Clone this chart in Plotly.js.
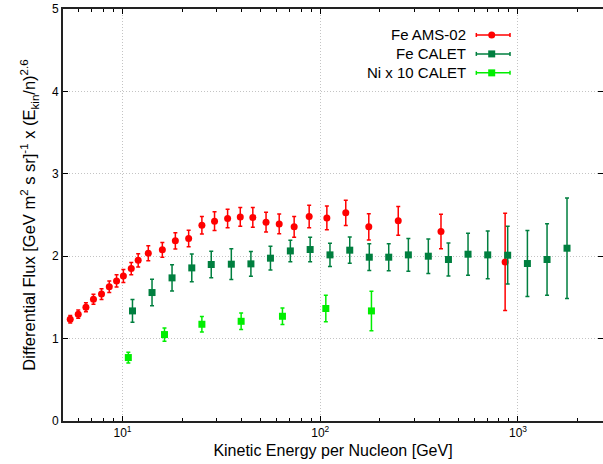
<!DOCTYPE html>
<html>
<head>
<meta charset="utf-8">
<script src="https://cdn.plot.ly/plotly-3.0.1.min.js"></script>
<style>html,body{margin:0;padding:0;background:#fff;}#chart{width:603px;height:464px;}</style>
</head>
<body>
<div id="chart"></div>
<script>
// Fe AMS-02
var amsE = [5.44,5.97,6.53,7.13,7.83,8.57,9.33,10.1,11.07,12.0,13.5,15.9,18.5,21.6,25.2,29.2,34.0,39.4,45.6,53.2,62.0,73.8,87.9,108,134.6,176,248,408,861];
var amsF = [1.235,1.296,1.38,1.478,1.54,1.63,1.70,1.76,1.85,1.95,2.036,2.077,2.186,2.215,2.376,2.425,2.458,2.477,2.47,2.413,2.392,2.356,2.482,2.465,2.526,2.356,2.429,2.30,1.93];
var amsErr = [0.045,0.05,0.055,0.06,0.065,0.07,0.075,0.08,0.075,0.08,0.09,0.09,0.1,0.1,0.107,0.113,0.113,0.115,0.12,0.12,0.12,0.127,0.136,0.144,0.154,0.158,0.174,0.21,0.59];
// Fe CALET
var feE = [11.23,14.1,17.8,22.4,28.1,35.5,44.6,56.0,70.6,88.9,112,141,177,222,279,352,445,559,703,887,1116,1403,1770];
var feF = [1.336,1.559,1.737,1.858,1.899,1.903,1.907,1.976,2.064,2.081,2.016,2.073,1.988,1.988,2.016,2.0,1.96,2.024,2.016,2.012,1.911,1.96,2.097];
var feErr = [0.138,0.16,0.16,0.168,0.162,0.186,0.15,0.144,0.13,0.148,0.142,0.16,0.162,0.164,0.198,0.21,0.2,0.255,0.29,0.35,0.4,0.435,0.61];
// Ni x 10 CALET
var niE = [10.7,16.3,25.2,39.8,64.4,106.7,181.5];
var niF = [0.77,1.049,1.174,1.21,1.271,1.365,1.336];
var niErr = [0.065,0.08,0.093,0.1,0.1,0.16,0.24];

var seriesNames = ['Fe AMS-02','Fe CALET','Ni x 10 CALET'];
var seriesColors = ['#ff0000','#007f3f','#00ee00'];
var seriesSymbols = ['circle','square','square'];
var xTickVals = [10,100,1000];
var xTickText = ['10<sup>1</sup>','10<sup>2</sup>','10<sup>3</sup>'];
var xMinorVals = [6,7,8,9,20,30,40,50,60,70,80,90,200,300,400,500,600,700,800,900,2000];
var yTickVals = [0,1,2,3,4,5];

function mk(x,y,e,i){
  return {x:x,y:y,type:'scatter',mode:'markers',name:seriesNames[i],showlegend:false,
    marker:{color:seriesColors[i],symbol:seriesSymbols[i],size:7},
    error_y:{type:'data',array:e,visible:true,color:seriesColors[i],thickness:1.5,width:2}};
}
var data = [mk(amsE,amsF,amsErr,0), mk(feE,feF,feErr,1), mk(niE,niF,niErr,2)];

// custom legend (text left of sample, as in reference)
var annotations = [], shapes = [];
var legY = [0.937,0.891,0.845];
for (var i=0;i<3;i++){
  annotations.push({xref:'paper',yref:'paper',x:0.750,y:legY[i],xanchor:'right',yanchor:'middle',
    text:seriesNames[i],showarrow:false,font:{family:'Liberation Sans, Arial, sans-serif',size:15,color:'#000'}});
  shapes.push({type:'line',xref:'paper',yref:'paper',x0:0.7654,x1:0.8278,y0:legY[i],y1:legY[i],line:{color:seriesColors[i],width:1.5}});
  [0.7654,0.8278].forEach(function(xx){
    shapes.push({type:'line',xref:'paper',yref:'paper',xsizemode:'pixel',ysizemode:'pixel',xanchor:xx,yanchor:legY[i],
      x0:0,x1:0,y0:-2,y1:2,line:{color:seriesColors[i],width:1.5}});
  });
  shapes.push({type:(i===0?'circle':'rect'),xref:'paper',yref:'paper',xsizemode:'pixel',ysizemode:'pixel',
    xanchor:0.7939,yanchor:legY[i],x0:-3.5,x1:3.5,y0:-3.5,y1:3.5,fillcolor:seriesColors[i],line:{width:0}});
}

var layout = {
  width:603,height:464,
  margin:{l:63,r:0,t:9,b:43},
  paper_bgcolor:'#fff',plot_bgcolor:'#fff',
  font:{family:'Liberation Sans, Arial, sans-serif',size:12,color:'#000'},
  showlegend:false,
  xaxis:{type:'log',range:[Math.log10(5),3.43],
    tickmode:'array',tickvals:xTickVals,ticktext:xTickText,
    ticks:'inside',ticklen:5,tickcolor:'#000',
    showline:true,linecolor:'#222',linewidth:2,mirror:'ticks',
    showgrid:true,gridcolor:'#c4c4c4',griddash:'1px,2px',gridwidth:1,zeroline:false,
    minor:{tickmode:'array',tickvals:xMinorVals,ticks:'inside',ticklen:3,tickcolor:'#000',showgrid:false},
    title:{text:'Kinetic Energy per Nucleon [GeV]',font:{size:16},standoff:5}},
  yaxis:{range:[0,5],tickmode:'array',tickvals:yTickVals,
    ticks:'inside',ticklen:5,tickcolor:'#000',
    showline:true,linecolor:'#222',linewidth:2,mirror:'ticks',
    showgrid:true,gridcolor:'#c4c4c4',griddash:'1px,2px',gridwidth:1,zeroline:false,
    title:{text:'Differential Flux [GeV m<sup>2</sup> s sr]<sup>-1</sup> x (E<sub>kin</sub>/n)<sup>2.6</sup>',font:{size:16.5},standoff:12}},
  annotations:annotations,shapes:shapes
};
Plotly.newPlot('chart',data,layout,{displayModeBar:false,staticPlot:true});
</script>
</body>
</html>
